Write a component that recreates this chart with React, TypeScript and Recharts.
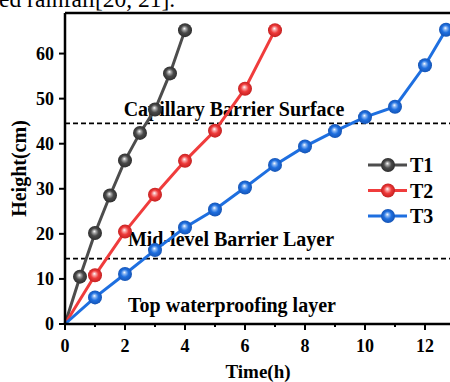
import { LineChart, Line, XAxis, YAxis, ReferenceLine, Legend } from "recharts";

// time (h) / wetting-front height (cm)
const t1Time = [0, 0.5, 1, 1.5, 2, 2.5, 3, 3.5, 4];
const t1Height = [0, 10.5, 20.2, 28.5, 36.3, 42.4, 47.6, 55.6, 65.2];
const t2Time = [0, 1, 2, 3, 4, 5, 6, 7];
const t2Height = [0, 10.8, 20.5, 28.7, 36.2, 42.9, 52.2, 65.2];
const t3Time = [0, 1, 2, 3, 4, 5, 6, 7, 8, 9, 10, 11, 12, 12.7];
const t3Height = [0, 5.9, 11.1, 16.4, 21.4, 25.4, 30.3, 35.3, 39.4, 42.8, 45.9, 48.2, 57.4, 65.3];

const xTicks = [0, 1, 2, 3, 4, 5, 6, 7, 8, 9, 10, 11, 12, 13];
const yTicks = [0, 10, 20, 30, 40, 50, 60];

const capillaryLevel = 44.5;
const midLevel = 14.5;

const series = [
  { name: "T1", color: "#4d4d4d", grad: ["#ffffff", "#a8a8a8", "#4a4a4a", "#2e2e2e"], time: t1Time, height: t1Height },
  { name: "T2", color: "#f03c3c", grad: ["#ffffff", "#f8a6a6", "#ee3a3a", "#c42020"], time: t2Time, height: t2Height },
  { name: "T3", color: "#1e6fe0", grad: ["#ffffff", "#8cb8f3", "#1f6fdf", "#1554b5"], time: t3Time, height: t3Height },
];

const FONT = "'Liberation Serif', 'Times New Roman', serif";

const sphereDot = (id: string) => (props: any) => {
  const { cx, cy, index } = props;
  if (index === 0) return <g key={`${id}-${index}`} />;
  return <circle key={`${id}-${index}`} cx={cx} cy={cy} r={7} fill={`url(#grad${id})`} />;
};

const XTick = (props: any) => {
  const { x, y, payload } = props;
  const major = payload.value % 2 === 0;
  return (
    <g>
      <line x1={x} x2={x} y1={y} y2={y + (major ? 6 : 3)} stroke="#000" strokeWidth={2} />
      {major && (
        <text x={x} y={y + 28} textAnchor="middle" fontFamily={FONT} fontWeight="bold" fontSize={18} fill="#000">
          {payload.value}
        </text>
      )}
    </g>
  );
};

const YTick = (props: any) => {
  const { x, y, payload } = props;
  return (
    <g>
      <line x1={x - 6} x2={x} y1={y} y2={y} stroke="#000" strokeWidth={2} />
      <text x={x - 11} y={y + 6} textAnchor="end" fontFamily={FONT} fontWeight="bold" fontSize={18} fill="#000">
        {payload.value}
      </text>
    </g>
  );
};

const zoneLabel = (text: string, dx: number, dy: number) => (props: any) => {
  const { viewBox } = props;
  return (
    <text x={viewBox.x + dx} y={viewBox.y + dy} textAnchor="middle" fontFamily={FONT} fontWeight="bold" fontSize={20} fill="#000">
      {text}
    </text>
  );
};

const LegendBox = () => (
  <svg width={90} height={80}>
    {series.map((s, i) => {
      const cy = 13 + i * 25.5;
      return (
        <g key={s.name}>
          <line x1={8} x2={47} y1={cy} y2={cy} stroke={s.color} strokeWidth={3} />
          <circle cx={28} cy={cy} r={7} fill={`url(#grad${s.name})`} />
          <text x={50} y={cy + 7} fontFamily={FONT} fontWeight="bold" fontSize={20} fill="#000">
            {s.name}
          </text>
        </g>
      );
    })}
  </svg>
);

export default function App() {
  return (
    <div style={{ position: "absolute", left: 0, top: 0, width: 450, height: 382, overflow: "hidden", background: "#fff" }}>
      <svg width={450} height={14} style={{ position: "absolute", left: 0, top: 0 }}>
        <text x={-1} y={7} fontFamily={FONT} fontSize={23.5} fill="#000">
          ed rainfall[20, 21].
        </text>
      </svg>
      <LineChart width={470} height={382} margin={{ top: 13, right: 15, bottom: 0, left: 0 }}>
        <defs>
          {series.map((s) => (
            <radialGradient key={s.name} id={`grad${s.name}`} cx="50%" cy="50%" r="50%" fx="45%" fy="38%">
              <stop offset="0%" stopColor={s.grad[0]} />
              <stop offset="22%" stopColor={s.grad[1]} />
              <stop offset="55%" stopColor={s.grad[2]} />
              <stop offset="100%" stopColor={s.grad[3]} />
            </radialGradient>
          ))}
        </defs>
        <XAxis
          type="number"
          dataKey="time"
          domain={[0, 13]}
          ticks={xTicks}
          interval={0}
          height={58}
          tickSize={0}
          tickMargin={0}
          tick={<XTick />}
          axisLine={{ stroke: "#000", strokeWidth: 2.5 }}
          label={(props: any) => (
            <text
              x={props.viewBox.x + props.viewBox.width / 2 - 2}
              y={props.viewBox.y + 54}
              textAnchor="middle"
              fontFamily={FONT}
              fontWeight="bold"
              fontSize={19}
              fill="#000"
            >
              Time(h)
            </text>
          )}
        />
        <YAxis
          type="number"
          domain={[0, 69]}
          ticks={yTicks}
          interval={0}
          width={65}
          tickSize={0}
          tickMargin={0}
          tick={<YTick />}
          axisLine={{ stroke: "#000", strokeWidth: 2.5 }}
          label={(props: any) => {
            const cx = 26;
            const cy = props.viewBox.y + props.viewBox.height / 2;
            return (
              <text
                x={cx}
                y={cy}
                transform={`rotate(-90 ${cx} ${cy})`}
                textAnchor="middle"
                fontFamily={FONT}
                fontWeight="bold"
                fontSize={20}
                fill="#000"
              >
                Height(cm)
              </text>
            );
          }}
        />
        <ReferenceLine y={69} stroke="#000" strokeWidth={2.5} />
        <ReferenceLine x={13} stroke="#000" strokeWidth={2.5} />
        <ReferenceLine
          y={capillaryLevel}
          stroke="#000"
          strokeWidth={1.8}
          strokeDasharray="5 3"
          label={zoneLabel("Capillary Barrier Surface", 169, -7)}
        />
        <ReferenceLine
          y={midLevel}
          stroke="#000"
          strokeWidth={1.8}
          strokeDasharray="5 3"
          label={zoneLabel("Mid-level Barrier Layer", 166, -13)}
        />
        <ReferenceLine y={0} stroke="none" label={zoneLabel("Top waterproofing layer", 167, -12.5)} />
        <Legend
          layout="vertical"
          align="center"
          verticalAlign="middle"
          content={() => <LegendBox />}
          wrapperStyle={{ left: 360, top: 152, width: 90, right: "auto", bottom: "auto" }}
        />
        {series.map((s) => (
          <Line
            key={s.name}
            name={s.name}
            data={s.time.map((t, i) => ({ time: t, height: s.height[i] }))}
            dataKey="height"
            stroke={s.color}
            strokeWidth={3}
            dot={sphereDot(s.name)}
            activeDot={false}
            isAnimationActive={false}
          />
        ))}
      </LineChart>
    </div>
  );
}
